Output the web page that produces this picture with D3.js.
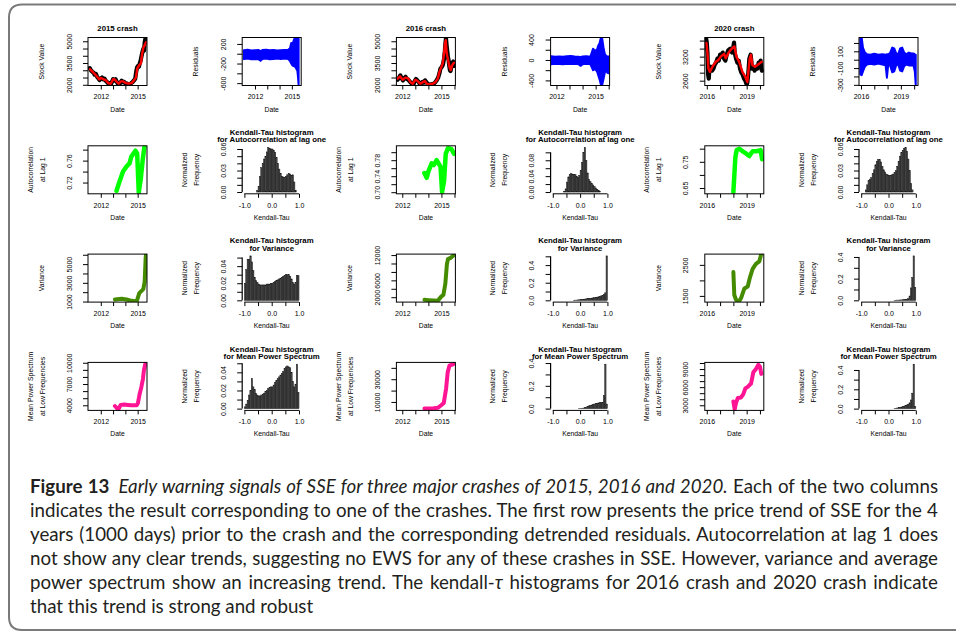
<!DOCTYPE html>
<html><head><meta charset="utf-8">
<script src="https://cdn.jsdelivr.net/npm/d3@7/dist/d3.min.js"></script>
<style>html,body{margin:0;padding:0;background:#fff;} svg{display:block;}</style>
</head><body>
<svg id="chart" width="956" height="636"></svg>
<script>
// ================= DATA =================
const crashTitles = ["2015 crash", "2016 crash", "2020 crash"];

// date axes (decimal years)
const dateDomains = [[2010.96, 2015.76], [2011.55, 2016.07], [2015.85, 2020.29]];
const dateTicks = [[2012, 2013, 2014, 2015], [2012, 2013, 2014, 2015, 2016], [2016, 2017, 2018, 2019, 2020]];
const dateLabels = [["2012", "", "", "2015"], ["2012", "", "", "2015", ""], ["2016", "", "", "2019", ""]];

// ---- Row 1: stock value (raw black + smoothed red) ----
const stockRawYears2015 = [2011.10,2011.2,2011.3,2011.4,2011.5,2011.6,2011.7,2011.8,2011.9,2012.0,2012.1,2012.2,2012.3,2012.4,2012.5,2012.6,2012.7,2012.8,2012.9,2013.0,2013.1,2013.2,2013.3,2013.4,2013.5,2013.6,2013.7,2013.8,2013.9,2014.0,2014.1,2014.2,2014.3,2014.4,2014.5,2014.6,2014.7,2014.8,2014.88,2014.95,2015.03,2015.1,2015.18,2015.25,2015.32,2015.4,2015.47,2015.52,2015.57,2015.62,2015.66,2015.7];
const stockRaw2015 = [3150,3000,2900,2850,2700,2750,2550,2450,2330,2420,2500,2380,2420,2280,2200,2100,2120,2000,2180,2380,2300,2380,2200,2050,1980,2150,2280,2180,2200,2080,2100,2020,2050,2040,2130,2200,2300,2420,2900,3200,3300,3250,3500,3700,4000,4300,4500,4350,4900,5150,4950,5280];
const stockSmoothYears2015 = [2011.12,2011.34,2011.53,2011.72,2011.88,2012.02,2012.2,2012.42,2012.61,2012.81,2013.02,2013.16,2013.29,2013.46,2013.62,2013.83,2014.05,2014.24,2014.51,2014.7,2014.86,2014.97,2015.13,2015.27,2015.35,2015.46,2015.59,2015.68];
const stockSmooth2015 = [3077,2887,2725,2535,2373,2465,2394,2303,2113,2070,2394,2352,2211,2070,2232,2232,2113,2092,2113,2303,2493,3127,3359,3479,4063,4535,4768,4930];

const stockRawYears2016 = [2011.65,2011.75,2011.85,2011.95,2012.05,2012.15,2012.25,2012.35,2012.45,2012.55,2012.65,2012.75,2012.85,2012.95,2013.05,2013.15,2013.25,2013.35,2013.45,2013.55,2013.65,2013.75,2013.85,2013.95,2014.05,2014.15,2014.25,2014.35,2014.45,2014.55,2014.65,2014.75,2014.85,2014.92,2015.0,2015.07,2015.13,2015.2,2015.26,2015.31,2015.35,2015.4,2015.45,2015.5,2015.55,2015.6,2015.65,2015.7,2015.75,2015.8,2015.85,2015.9,2015.95,2016.0];
const stockRaw2016 = [2350,2500,2650,2450,2300,2450,2550,2400,2350,2250,2150,2050,2000,2250,2400,2300,2200,2050,2100,2200,2150,2300,2180,2050,2000,2030,2010,2060,2100,2200,2330,2500,2800,3100,3200,3300,3450,3800,4300,4900,5200,4700,4300,3900,3700,3300,3000,2950,3200,3400,3550,3600,3500,3300];
const stockSmoothYears2016 = [2011.65,2011.83,2012.03,2012.24,2012.45,2012.62,2012.8,2013.01,2013.18,2013.37,2013.57,2013.72,2013.88,2014.08,2014.34,2014.54,2014.72,2014.85,2015.0,2015.1,2015.2,2015.28,2015.33,2015.4,2015.51,2015.61,2015.71,2015.82,2015.92,2016.0];
const stockSmooth2016 = [2422,2585,2352,2493,2444,2183,2070,2352,2254,2070,2183,2254,2070,2021,2070,2183,2422,2887,3239,3474,4183,4887,5070,4183,3711,3239,3007,3338,3479,3521];

const stockRawYears2020 = [2015.95,2016.0,2016.05,2016.1,2016.15,2016.2,2016.3,2016.4,2016.5,2016.6,2016.7,2016.8,2016.9,2017.0,2017.1,2017.2,2017.3,2017.4,2017.5,2017.6,2017.7,2017.8,2017.9,2018.0,2018.05,2018.1,2018.2,2018.3,2018.4,2018.5,2018.6,2018.7,2018.8,2018.9,2019.0,2019.05,2019.1,2019.15,2019.2,2019.3,2019.35,2019.4,2019.5,2019.6,2019.7,2019.8,2019.9,2020.0,2020.05,2020.1,2020.15];
const stockRaw2020 = [3650,3550,3300,2750,2650,2900,2950,2850,2900,3000,3050,3150,3100,3250,3200,3300,3150,3100,3250,3350,3380,3400,3300,3450,3550,3300,3150,3050,3100,2900,2800,2750,2650,2600,2500,2550,2700,2900,3150,3250,3100,2900,2950,2850,2950,2900,3050,3000,3100,2900,2850];
const stockSmoothYears2020 = [2015.97,2016.05,2016.12,2016.23,2016.42,2016.68,2016.87,2017.05,2017.3,2017.43,2017.62,2017.8,2017.98,2018.08,2018.23,2018.43,2018.68,2018.88,2019.05,2019.23,2019.33,2019.43,2019.63,2019.8,2019.98,2020.13];
const stockSmooth2020 = [3541,3287,2905,2819,2946,3073,3117,3201,3269,3160,3287,3371,3430,3455,3201,3073,2819,2709,2564,3160,3244,2989,2946,2989,3033,3073];

// ---- Row 1: residual envelopes ----
const residYears2015 = [2011.10,2011.4,2011.7,2012.0,2012.3,2012.45,2012.6,2012.9,2013.2,2013.5,2013.8,2014.1,2014.4,2014.7,2014.85,2014.95,2015.05,2015.15,2015.25,2015.35,2015.45,2015.50,2015.55];
const residHi2015 = [70,80,65,70,75,55,75,80,70,75,65,70,75,80,110,220,190,270,330,330,320,330,330];
const residLo2015 = [-110,-100,-115,-110,-115,-145,-110,-100,-115,-110,-100,-110,-100,-110,-150,-200,-240,-250,-260,-300,-350,-480,-640];

const residYears2016 = [2011.6,2011.9,2012.2,2012.5,2012.8,2013.1,2013.4,2013.7,2013.85,2014.0,2014.3,2014.6,2014.8,2014.95,2015.1,2015.2,2015.3,2015.4,2015.5,2015.6,2015.7,2015.8,2015.9,2016.0];
const residHi2016 = [75,65,70,65,75,80,70,65,55,70,75,65,220,180,200,280,330,430,420,250,120,80,70,70];
const residLo2016 = [-85,-75,-80,-85,-75,-80,-75,-85,-115,-85,-75,-85,-200,-180,-220,-300,-380,-480,-490,-380,-250,-200,-250,-260];

const residYears2020 = [2015.95,2016.05,2016.15,2016.3,2016.45,2016.7,2017.0,2017.3,2017.6,2017.85,2017.95,2018.05,2018.2,2018.35,2018.5,2018.65,2018.8,2018.95,2019.1,2019.25,2019.4,2019.6,2019.8,2019.95,2020.05,2020.12];
const residHi2020 = [265,265,140,85,65,60,70,58,65,58,65,60,85,145,135,75,65,135,145,85,65,85,75,75,65,58];
const residLo2020 = [-175,-185,-140,-80,-58,-50,-58,-45,-58,-65,-215,-58,-75,-150,-140,-65,-58,-130,-140,-78,-58,-68,-68,-68,-140,-305];

// ---- Row 2: autocorrelation at lag 1 ----
const acYears2015 = [2013.28,2013.54,2013.81,2014.08,2014.34,2014.48,2014.66,2014.82,2014.96,2015.09,2015.25,2015.41,2015.55];
const ac2015 = [0.705,0.723,0.740,0.749,0.755,0.767,0.773,0.778,0.773,0.702,0.726,0.761,0.785];
const acYears2016 = [2013.69,2013.87,2014.0,2014.25,2014.42,2014.63,2014.78,2014.93,2015.05,2015.2,2015.33,2015.5,2015.76,2015.96];
const ac2016 = [0.748,0.736,0.752,0.772,0.768,0.780,0.772,0.764,0.700,0.728,0.796,0.810,0.808,0.796];
const acYears2020 = [2018.0,2018.15,2018.25,2018.45,2018.7,2018.95,2019.2,2019.45,2019.7,2019.9,2020.05,2020.16];
const ac2020 = [0.634,0.768,0.795,0.800,0.790,0.782,0.772,0.790,0.790,0.792,0.795,0.760];

// ---- Row 3: variance ----
const varYears2015 = [2013.15,2013.7,2014.1,2014.51,2014.92,2015.13,2015.32,2015.46,2015.57,2015.65,2015.68];
const var2015 = [1213,1287,1213,1074,1000,1890,2140,2320,3130,5620,6040];
const varYears2016 = [2013.7,2014.0,2014.4,2014.72,2014.98,2015.15,2015.3,2015.42,2015.5,2015.74,2015.94];
const var2016 = [1375,1300,1200,1140,2140,2530,5240,9870,11030,11400,11950];
const varYears2020 = [2018.0,2018.07,2018.2,2018.4,2018.58,2018.83,2019.08,2019.25,2019.45,2019.7,2019.95,2020.1];
const var2020 = [2267,1530,1375,1300,1430,1740,1800,2100,2370,2530,2610,2850];

// ---- Row 4: mean power spectrum at low frequencies ----
const psYears2015 = [2013.15,2013.42,2013.62,2013.9,2014.2,2014.5,2014.92,2015.02,2015.16,2015.3,2015.43,2015.51,2015.65];
const ps2015 = [3900,3400,4040,4100,4050,4000,4000,4300,5580,6550,7740,8940,10050];
const psYears2016 = [2013.7,2014.0,2014.4,2014.72,2014.98,2015.18,2015.36,2015.48,2015.61,2015.92];
const ps2016 = [4270,4300,4500,4870,7100,9150,22000,36150,41900,43350];
const psYears2020 = [2018.0,2018.1,2018.2,2018.33,2018.58,2018.75,2018.9,2019.08,2019.33,2019.5,2019.7,2019.88,2020.0,2020.1];
const ps2020 = [3640,2310,3390,4190,4290,4830,5790,6050,6600,8460,9000,9700,9400,8200];

// ---- y axes of line panels: domains, ticks, labels ----
const yDomStock = [[1950, 5260], [1950, 5260], [2480, 3677]];
const yTicksStock = [[2000,2500,3000,3500,4000,4500,5000],[2000,2500,3000,3500,4000,4500,5000],[2600,2800,3000,3200,3400,3600]];
const yLabelsStock = [["2000","","","3500","","","5000"],["2000","","","3500","","","5000"],["2600","","","3200","",""]];
const yDomResid = [[-648, 331], [-500, 440], [-308, 265]];
const yTicksResid = [[-600,-400,-200,0,200],[-400,-200,0,200,400],[-300,-200,-100,0,100,200]];
const yLabelsResid = [["-600","","-200","","200"],["-400","","0","","400"],["-300","","-100","","100",""]];
const yDomAc = [[0.6995, 0.787], [0.696, 0.816], [0.628, 0.811]];
const yTicksAc = [[0.72,0.74,0.76,0.78],[0.70,0.72,0.74,0.76,0.78,0.80],[0.65,0.70,0.75,0.80]];
const yLabelsAc = [["0.72","","0.76",""],["0.70","","0.74","","0.78",""],["0.65","","0.75",""]];
const yDomVar = [[940, 6070], [840, 12230], [1300, 2847]];
const yTicksVar = [[1000,2000,3000,4000,5000,6000],[2000,4000,6000,8000,10000,12000],[1500,2000,2500]];
const yLabelsVar = [["1000","","3000","","5000",""],["2000","","6000","","","12000"],["1500","","2500"]];
const yDomPs = [[3280, 10050], [2560, 44800], [2150, 10100]];
const yTicksPs = [[4000,5000,6000,7000,8000,9000,10000],[10000,20000,30000,40000],[3000,4000,5000,6000,7000,8000,9000,10000]];
const yLabelsPs = [["4000","","","7000","","","10000"],["10000","","30000",""],["3000","","","6000","","","9000",""]];

// ---- Kendall-tau histograms (normalized frequency, 40 bins of width 0.05 on [-1,1]) ----
const kendallTicks = [-1, -0.5, 0, 0.5, 1];
const kendallLabels = ["-1.0", "", "0.0", "", "1.0"];
const histAc2015 = [0,0,0,0,0,0,0,0,0,0.002, 0.008,0.022,0.034,0.040,0.046,0.050,0.056,0.062,0.061,0.060, 0.060,0.058,0.055,0.048,0.040,0.032,0.026,0.022,0.021,0.020, 0.022,0.024,0.026,0.025,0.023,0.024,0.014,0.002,0,0];
const histAc2016 = [0,0,0,0,0,0,0,0,0.002,0.008, 0.025,0.038,0.044,0.046,0.045,0.044,0.044,0.040,0.037,0.042, 0.055,0.075,0.100,0.112,0.080,0.048,0.032,0.026,0.022,0.018, 0.014,0.010,0.007,0.004,0.002,0,0,0,0,0];
const histAc2020 = [0,0,0,0.003,0.010,0.016,0.018,0.020,0.026,0.031, 0.038,0.043,0.045,0.045,0.042,0.036,0.031,0.028,0.025,0.024, 0.023,0.023,0.024,0.025,0.027,0.030,0.036,0.043,0.050,0.055, 0.058,0.061,0.062,0.057,0.046,0.030,0.012,0.003,0,0];
const histVar2015 = [0.020,0.036,0.048,0.048,0.052,0.045,0.035,0.027,0.023,0.021, 0.019,0.018,0.018,0.018,0.018,0.018,0.019,0.019,0.019,0.020, 0.020,0.021,0.022,0.023,0.024,0.025,0.026,0.027,0.028,0.029, 0.030,0.030,0.030,0.028,0.025,0.021,0.019,0.021,0.029,0.029];
const histVar2016 = [0,0,0,0,0,0,0,0,0,0, 0,0,0,0,0,0.001,0.002,0.003,0.004,0.006, 0.008,0.010,0.012,0.014,0.016,0.018,0.020,0.022,0.025,0.027, 0.030,0.033,0.036,0.040,0.044,0.050,0.058,0.068,0.085,0.505];
const histVar2020 = [0,0,0,0,0,0,0,0,0,0, 0,0,0,0,0,0,0,0,0,0, 0,0,0,0,0.001,0.001,0.002,0.002,0.003,0.004, 0.005,0.006,0.008,0.010,0.015,0.040,0.115,0.210,0.410,0.120];
const histPs2015 = [0.002,0.005,0.009,0.015,0.020,0.033,0.024,0.021,0.017,0.015, 0.014,0.014,0.015,0.016,0.017,0.019,0.020,0.022,0.023,0.024, 0.024,0.026,0.029,0.031,0.033,0.035,0.037,0.039,0.041,0.044, 0.046,0.047,0.046,0.045,0.040,0.030,0.024,0.027,0.049,0.018];
const histPs2016 = [0,0,0,0,0,0,0,0,0,0, 0,0,0,0,0,0,0,0,0,0.001, 0.002,0.003,0.005,0.008,0.012,0.018,0.024,0.028,0.032,0.036, 0.040,0.044,0.047,0.050,0.052,0.054,0.055,0.115,0.390,0.040];
const histPs2020 = [0,0,0,0,0,0,0,0,0,0, 0,0,0,0,0,0,0,0,0,0, 0,0,0,0,0.002,0.004,0.006,0.009,0.012,0.016, 0.020,0.025,0.031,0.038,0.046,0.060,0.090,0.160,0.460,0.020];
const histYTicks = {
  ac: [[0,0.01,0.02,0.03,0.04,0.05,0.06],[0,0.02,0.04,0.06,0.08,0.10],[0,0.01,0.02,0.03,0.04,0.05,0.06]],
  var: [[0,0.01,0.02,0.03,0.04,0.05],[0,0.1,0.2,0.3,0.4,0.5],[0,0.1,0.2,0.3,0.4]],
  ps: [[0,0.01,0.02,0.03,0.04,0.05],[0,0.1,0.2,0.3,0.4],[0,0.1,0.2,0.3,0.4]]
};
const histYLabels = {
  ac: [["0.00","","","0.03","","","0.06"],["0.00","","0.04","","0.08",""],["0.00","","","0.03","","","0.06"]],
  var: [["0.00","","0.02","","0.04",""],["0.0","","0.2","","0.4",""],["0.0","","0.2","","0.4"]],
  ps: [["0.00","","0.02","","0.04",""],["0.0","","0.2","","0.4"],["0.0","","0.2","","0.4"]]
};

// caption
const captionLines = [
  [["Figure 13","b"],["Early warning signals of SSE for three major crashes of 2015, 2016 and 2020.","i"],[" Each of the two columns",""]],
  [["indicates the result corresponding to one of the crashes. The first row presents the price trend of SSE for the 4",""]],
  [["years (1000 days) prior to the crash and the corresponding detrended residuals. Autocorrelation at lag 1 does",""]],
  [["not show any clear trends, suggesting no EWS for any of these crashes in SSE. However, variance and average",""]],
  [["power spectrum show an increasing trend. The kendall-",""],["\u03c4","i"],[" histograms for 2016 crash and 2020 crash indicate",""]],
  [["that this trend is strong and robust",""]]
];

// ================= DRAWING =================
const FONT = "'Liberation Sans', Arial, Helvetica, sans-serif";
const CAPFONT = "Lato, 'Open Sans', sans-serif";
const svg = d3.select("#chart");
const PL = 88, PP = 154.2, PT = 37.5, RP = 108.3, PW = 59, PH = 48;
const TICK_FS = 7, LAB_FS = 6.8, TITLE_FS = 7.8;

// frame
svg.append("path")
  .attr("d", "M 960 4.5 L 22 4.5 Q 9 4.5 9 17.5 L 9 617 Q 9 630 22 630 L 960 630")
  .attr("fill", "none").attr("stroke", "#7a7a7a").attr("stroke-width", 2);

function yLabelText(g, x0, y0, lines) {
  const cy = y0 + PH / 2;
  const offs = lines.length === 2 ? [-55.5, -43.5] : [-44];
  lines.forEach((s, i) => {
    g.append("text").attr("transform", `translate(${x0 + offs[i]},${cy}) rotate(-90)`)
      .attr("text-anchor", "middle").attr("font-family", FONT).attr("font-size", LAB_FS).attr("fill", "#000").text(s);
  });
}
function xLabelText(g, x0, y0, s) {
  g.append("text").attr("x", x0 + PW / 2).attr("y", y0 + PH + 26).attr("text-anchor", "middle")
    .attr("font-family", FONT).attr("font-size", LAB_FS).attr("fill", "#000").text(s);
}
function styleAxis(ax) {
  ax.attr("font-family", FONT).attr("font-size", TICK_FS);
  ax.select(".domain").remove();
  ax.selectAll("line").attr("stroke", "#000").attr("stroke-width", 1);
  ax.selectAll("text").attr("fill", "#000");
}
function rotateYLabels(ax, off) {
  ax.selectAll(".tick text").attr("x", null).attr("dy", null).attr("text-anchor", "middle")
    .attr("transform", `translate(${-off},0) rotate(-90)`);
}

let clipId = 0;
function linePanel(col, row, xDom, xT, xL, yDom, yT, yL, ylab, layers, title) {
  const x0 = PL + PP * col, y0 = PT + RP * row;
  const xs = d3.scaleLinear().domain(xDom).range([x0, x0 + PW]);
  const ys = d3.scaleLinear().domain(yDom).range([y0 + PH, y0]);
  const g = svg.append("g");
  const id = "clip" + (clipId++);
  g.append("clipPath").attr("id", id).append("rect").attr("x", x0).attr("y", y0).attr("width", PW).attr("height", PH);
  const gc = g.append("g").attr("clip-path", `url(#${id})`);
  layers.forEach(L => {
    if (L.lo) {
      const pts = L.x.map((d, i) => ({ x: d, lo: L.lo[i], hi: L.hi[i] }));
      gc.append("path").datum(pts)
        .attr("d", d3.area().x(d => xs(d.x)).y0(d => ys(d.lo)).y1(d => ys(d.hi)))
        .attr("fill", L.color).attr("stroke", L.color).attr("stroke-width", L.w).attr("stroke-linejoin", "round");
    } else {
      const pts = L.x.map((d, i) => ({ x: d, y: L.y[i] }));
      gc.append("path").datum(pts)
        .attr("d", d3.line().x(d => xs(d.x)).y(d => ys(d.y)))
        .attr("fill", "none").attr("stroke", L.color).attr("stroke-width", L.w)
        .attr("stroke-linejoin", "round").attr("stroke-linecap", "round");
    }
  });
  g.append("rect").attr("x", x0).attr("y", y0).attr("width", PW).attr("height", PH)
    .attr("fill", "none").attr("stroke", "#000").attr("stroke-width", 1);
  const xa = g.append("g").attr("transform", `translate(0,${y0 + PH})`)
    .call(d3.axisBottom(xs).tickValues(xT).tickSize(4).tickPadding(5).tickFormat((d, i) => xL[i]));
  styleAxis(xa);
  const ya = g.append("g").attr("transform", `translate(${x0},0)`)
    .call(d3.axisLeft(ys).tickValues(yT).tickSize(5).tickFormat((d, i) => yL[i]));
  styleAxis(ya); rotateYLabels(ya, 16.5);
  yLabelText(g, x0, y0, ylab);
  xLabelText(g, x0, y0, "Date");
  if (title) {
    g.append("text").attr("x", x0 + PW / 2).attr("y", y0 - 6.4).attr("text-anchor", "middle")
      .attr("font-family", FONT).attr("font-size", TITLE_FS).attr("font-weight", "bold").text(title);
  }
}

const binEdges = d3.range(41).map(i => -1 + i * 0.05);
function histPanel(col, row, values, yT, yL, forWhat) {
  const x0 = PL + PP * col, y0 = PT + RP * row;
  const M = d3.max(values);
  const xs = d3.scaleLinear().domain([-1.08, 1.08]).range([x0, x0 + PW]);
  const ys = d3.scaleLinear().domain([-0.04 * M, 1.04 * M]).range([y0 + PH, y0]);
  const g = svg.append("g");
  const bins = values.map((v, i) => ({ a: binEdges[i], b: binEdges[i + 1], v }));
  g.selectAll("rect.bar").data(bins).join("rect").attr("class", "bar")
    .attr("x", d => xs(d.a)).attr("width", d => xs(d.b) - xs(d.a))
    .attr("y", d => ys(d.v)).attr("height", d => ys(0) - ys(d.v))
    .attr("fill", "#4a4a4a").attr("stroke", "#111").attr("stroke-width", 0.45);
  const xa = g.append("g").attr("transform", `translate(0,${y0 + PH})`)
    .call(d3.axisBottom(xs).tickValues(kendallTicks).tickSize(4).tickPadding(5).tickFormat((d, i) => kendallLabels[i]));
  styleAxis(xa);
  xa.append("line").attr("x1", xs(-1)).attr("x2", xs(1)).attr("stroke", "#000").attr("stroke-width", 1);
  const ya = g.append("g").attr("transform", `translate(${x0},0)`)
    .call(d3.axisLeft(ys).tickValues(yT).tickSize(5).tickFormat((d, i) => yL[i]));
  styleAxis(ya); rotateYLabels(ya, 16.5);
  ya.append("line").attr("y1", ys(yT[0])).attr("y2", ys(yT[yT.length - 1])).attr("stroke", "#000").attr("stroke-width", 1.2);
  yLabelText(g, x0, y0, ["Normalized", "Frequency"]);
  xLabelText(g, x0, y0, "Kendall-Tau");
  [["Kendall-Tau histogram", -10.8], ["for " + forWhat, -3.5]].forEach(([s, dy]) => {
    g.append("text").attr("x", x0 + PW / 2).attr("y", y0 + dy).attr("text-anchor", "middle")
      .attr("font-family", FONT).attr("font-size", TITLE_FS).attr("font-weight", "bold").text(s);
  });
}

const stockRawYears = [stockRawYears2015, stockRawYears2016, stockRawYears2020];
const stockRaw = [stockRaw2015, stockRaw2016, stockRaw2020];
const stockSmoothYears = [stockSmoothYears2015, stockSmoothYears2016, stockSmoothYears2020];
const stockSmooth = [stockSmooth2015, stockSmooth2016, stockSmooth2020];
const residYears = [residYears2015, residYears2016, residYears2020];
const residHi = [residHi2015, residHi2016, residHi2020];
const residLo = [residLo2015, residLo2016, residLo2020];
const acYears = [acYears2015, acYears2016, acYears2020], acVals = [ac2015, ac2016, ac2020];
const varYears = [varYears2015, varYears2016, varYears2020], varVals = [var2015, var2016, var2020];
const psYears = [psYears2015, psYears2016, psYears2020], psVals = [ps2015, ps2016, ps2020];
const histAc = [histAc2015, histAc2016, histAc2020];
const histVar = [histVar2015, histVar2016, histVar2020];
const histPs = [histPs2015, histPs2016, histPs2020];

for (let k = 0; k < 3; k++) {
  const cL = 2 * k, cR = 2 * k + 1;
  const xD = dateDomains[k], xT = dateTicks[k], xL = dateLabels[k];
  linePanel(cL, 0, xD, xT, xL, yDomStock[k], yTicksStock[k], yLabelsStock[k], ["Stock Value"], [
    { x: stockRawYears[k], y: stockRaw[k], color: "#000000", w: 4.2 },
    { x: stockSmoothYears[k], y: stockSmooth[k], color: "#ff0000", w: 2.4 }
  ], crashTitles[k]);
  linePanel(cR, 0, xD, xT, xL, yDomResid[k], yTicksResid[k], yLabelsResid[k], ["Residuals"], [
    { x: residYears[k], lo: residLo[k], hi: residHi[k], color: "#0000ff", w: 2 }
  ]);
  linePanel(cL, 1, xD, xT, xL, yDomAc[k], yTicksAc[k], yLabelsAc[k], ["Autocorrelation", "at Lag 1"], [
    { x: acYears[k], y: acVals[k], color: "#00ff00", w: 4.5 }
  ]);
  histPanel(cR, 1, histAc[k], histYTicks.ac[k], histYLabels.ac[k], "Autocorrelation at lag one");
  linePanel(cL, 2, xD, xT, xL, yDomVar[k], yTicksVar[k], yLabelsVar[k], ["Variance"], [
    { x: varYears[k], y: varVals[k], color: "#458b00", w: 4 }
  ]);
  histPanel(cR, 2, histVar[k], histYTicks.var[k], histYLabels.var[k], "Variance");
  linePanel(cL, 3, xD, xT, xL, yDomPs[k], yTicksPs[k], yLabelsPs[k], ["Mean Power Spectrum", "at Low Frequencies"], [
    { x: psYears[k], y: psVals[k], color: "#ff1493", w: 4 }
  ]);
  histPanel(cR, 3, histPs[k], histYTicks.ps[k], histYLabels.ps[k], "Mean Power Spectrum");
}

// caption (justified lines); font size chosen so the last (unjustified) line has the reference width
const CAP_X = 30, CAP_W = 908, CAP_Y0 = 493, CAP_LH = 24, LAST_W = 312;
const capTexts = captionLines.map((parts, li) => {
  const t = svg.append("text").attr("x", CAP_X).attr("y", CAP_Y0 + li * CAP_LH)
    .attr("font-family", CAPFONT).attr("font-size", 20).attr("fill", "#231f20");
  parts.forEach(([s, st], k) => {
    const ts = t.append("tspan").text(s);
    if (st === "b") ts.attr("font-weight", "bold");
    if (st === "i") ts.attr("font-style", "italic");
    if (li === 0 && k === 1) ts.attr("dx", 9);
  });
  return t;
});
const widths20 = capTexts.map(t => t.node().getBBox().width);
let fs = 20 * LAST_W / widths20[widths20.length - 1];
const maxFull = d3.max(widths20.slice(0, -1));
fs = Math.min(fs, 20 * (CAP_W - 6) / maxFull);
capTexts.forEach((t, li) => {
  t.attr("font-size", fs);
  if (li < capTexts.length - 1) {
    const w = t.node().getBBox().width;
    const n = (captionLines[li].map(p => p[0]).join("").match(/ /g) || []).length;
    t.attr("word-spacing", (CAP_W - w) / n);
  }
});
</script>
</body></html>
